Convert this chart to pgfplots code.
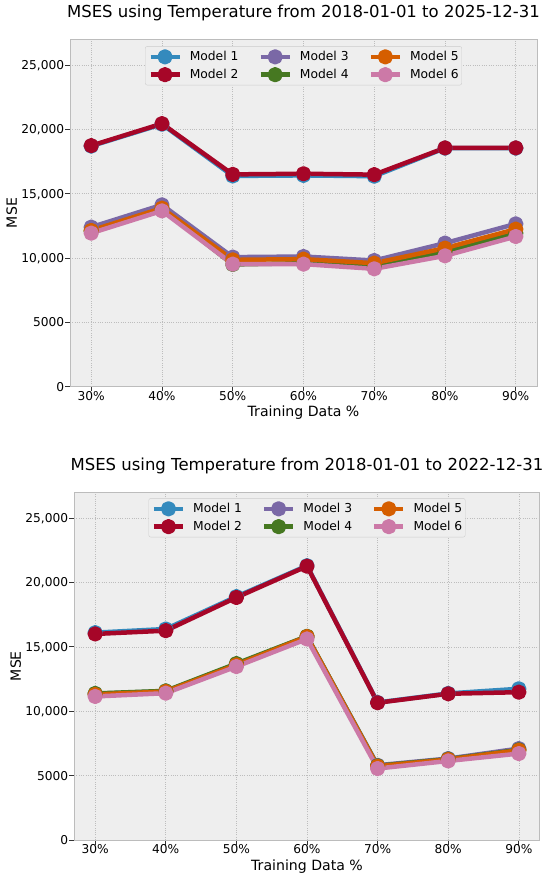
\documentclass[border=0pt]{standalone}
\usepackage{fontspec}
\setmainfont{DejaVu Sans}
\usepackage{pgfplots}
\pgfplotsset{compat=1.18}
\definecolor{c1}{HTML}{348ABD}
\definecolor{c2}{HTML}{A60628}
\definecolor{c3}{HTML}{7A68A6}
\definecolor{c4}{HTML}{467821}
\definecolor{c5}{HTML}{D55E00}
\definecolor{c6}{HTML}{CC79A7}
\definecolor{bgc}{HTML}{EEEEEE}
\definecolor{edgec}{HTML}{BCBCBC}
\definecolor{gridc}{HTML}{BDBDBD}
\pgfplotsset{
  ser/.style={color=#1, line width=4.5bp, line join=round, solid, mark=*, mark size=5.4bp,
    mark options={draw=none, fill=#1}},
  mystyle/.style={
    scale only axis, anchor=south west,
    /pgf/number format/assume math mode=true,
    scaled y ticks=false, scaled x ticks=false,
    every axis title shift=0pt,
    xmin=-0.3, xmax=6.3, ymin=0, ymax=27000,
    xtick={0,...,6}, xticklabels={30\%,40\%,50\%,60\%,70\%,80\%,90\%},
    ytick={0,5000,10000,15000,20000,25000},
    yticklabels={0,5000,{10,000},{15,000},{20,000},{25,000}},
    axis background/.style={fill=bgc},
    axis line style={draw=edgec, line width=1bp},
    grid=major,
    major grid style={draw=gridc, line width=0.6bp, dash pattern=on 1bp off 1.3bp},
    tick align=outside, tick pos=left, major tick length=4.5bp,
    tick style={draw=black!80, line width=0.8bp},
    tick label style={font=\fontsize{12.2bp}{14bp}\selectfont},
    yticklabel style={anchor=base east, inner sep=0pt, xshift=-1.2bp, yshift=-4.5bp},
    xticklabel style={anchor=north, inner sep=0pt, yshift=0bp},
    xlabel={Training Data \%}, ylabel={MSE},
    label style={font=\fontsize{14.1bp}{17bp}\selectfont},
    title style={font=\fontsize{16.5bp}{20bp}\selectfont, anchor=center},
    legend columns=3,
    legend image code/.code={\draw[mark repeat=2,mark phase=2,##1] plot coordinates {(0bp,0bp) (14.5bp,0bp) (29bp,0bp)};},
    legend style={anchor=north, draw=black!20, fill=bgc, rounded corners=2bp,
      font=\fontsize{12.3bp}{14bp}\selectfont,
      inner xsep=3bp, inner ysep=5bp, row sep=7bp,
      nodes={inner sep=0pt, anchor=west},
      /tikz/every odd column/.append style={column sep=8bp},
      /tikz/every even column/.append style={column sep=20bp}},
  }
}
\begin{document}
\begin{tikzpicture}
\useasboundingbox (0,0) rectangle (550bp,879bp);
% ---------- top axis ----------
\begin{axis}[mystyle, at={(70bp,492.3bp)}, width=467bp, height=347.4bp,
  title={MSES using Temperature from 2018-01-01 to 2025-12-31},
  title style={at={(axis description cs:0.5,1.0745)}},
  xlabel style={at={(axis description cs:0.5,-0.0755)}, anchor=center},
  ylabel style={at={(axis description cs:-0.1248,0.5)}, anchor=center},
  legend style={at={(axis description cs:0.5,0.98)}}]
\addlegendimage{ser=c1}\addlegendentry{Model 1}
\addlegendimage{ser=c3}\addlegendentry{Model 3}
\addlegendimage{ser=c5}\addlegendentry{Model 5}
\addlegendimage{ser=c2}\addlegendentry{Model 2}
\addlegendimage{ser=c4}\addlegendentry{Model 4}
\addlegendimage{ser=c6}\addlegendentry{Model 6}
\addplot[ser=c1, forget plot] coordinates {(0,18700) (1,20400) (2,16380) (3,16420) (4,16360) (5,18540) (6,18540)};
\addplot[ser=c2, forget plot] coordinates {(0,18734) (1,20443) (2,16500) (3,16550) (4,16480) (5,18560) (6,18560)};
\addplot[ser=c3, forget plot] coordinates {(0,12400) (1,14130) (2,10070) (3,10117) (4,9806) (5,11157) (6,12655)};
\addplot[ser=c4, forget plot] coordinates {(0,12100) (1,13800) (2,9500) (3,9600) (4,9350) (5,10506) (6,11933)};
\addplot[ser=c5, forget plot] coordinates {(0,12140) (1,13873) (2,9860) (3,9914) (4,9600) (5,10769) (6,12244)};
\addplot[ser=c6, forget plot] coordinates {(0,11933) (1,13664) (2,9526) (3,9526) (4,9161) (5,10171) (6,11670)};
\end{axis}
% ---------- bottom axis ----------
\begin{axis}[mystyle, at={(74bp,39bp)}, width=466bp, height=347.7bp,
  title={MSES using Temperature from 2018-01-01 to 2022-12-31},
  title style={at={(axis description cs:0.5,1.0764)}},
  xlabel style={at={(axis description cs:0.5,-0.0765)}, anchor=center},
  ylabel style={at={(axis description cs:-0.1251,0.5)}, anchor=center},
  legend style={at={(axis description cs:0.5,0.983)}}]
\addlegendimage{ser=c1}\addlegendentry{Model 1}
\addlegendimage{ser=c3}\addlegendentry{Model 3}
\addlegendimage{ser=c5}\addlegendentry{Model 5}
\addlegendimage{ser=c2}\addlegendentry{Model 2}
\addlegendimage{ser=c4}\addlegendentry{Model 4}
\addlegendimage{ser=c6}\addlegendentry{Model 6}
\addplot[ser=c1, forget plot] coordinates {(0,16100) (1,16385) (2,18900) (3,21300) (4,10680) (5,11380) (6,11742)};
\addplot[ser=c2, forget plot] coordinates {(0,16000) (1,16254) (2,18831) (3,21262) (4,10658) (5,11354) (6,11478)};
\addplot[ser=c3, forget plot] coordinates {(0,11354) (1,11560) (2,13650) (3,15800) (4,5805) (5,6323) (6,7097)};
\addplot[ser=c4, forget plot] coordinates {(0,11380) (1,11580) (2,13700) (3,15820) (4,5760) (5,6280) (6,7000)};
\addplot[ser=c5, forget plot] coordinates {(0,11300) (1,11530) (2,13600) (3,15790) (4,5727) (5,6250) (6,6966)};
\addplot[ser=c6, forget plot] coordinates {(0,11146) (1,11400) (2,13467) (3,15610) (4,5549) (5,6138) (6,6710)};
\end{axis}
\end{tikzpicture}
\end{document}
